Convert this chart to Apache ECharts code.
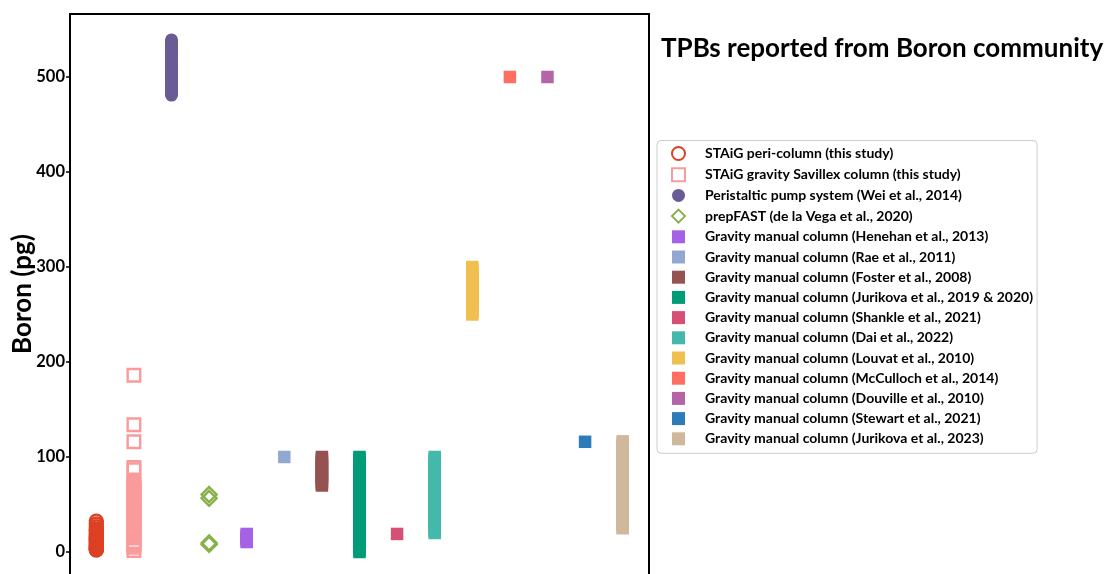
<!DOCTYPE html>
<html>
<head>
<meta charset="utf-8">
<script src="https://cdn.jsdelivr.net/npm/echarts@6/dist/echarts.min.js"></script>
<style>
html,body{margin:0;padding:0;background:#fff;}
#chart{width:1108px;height:574px;}
</style>
</head>
<body>
<div id="chart"></div>
<script>
// ---- data ----
const titleText = 'TPBs reported from Boron community';
const yAxisName = 'Boron (pg)';
const yTicks = [0, 100, 200, 300, 400, 500];

const seriesNames = [
  'STAiG peri-column (this study)',
  'STAiG gravity Savillex column (this study)',
  'Peristaltic pump system (Wei et al., 2014)',
  'prepFAST (de la Vega et al., 2020)',
  'Gravity manual column (Henehan et al., 2013)',
  'Gravity manual column (Rae et al., 2011)',
  'Gravity manual column (Foster et al., 2008)',
  'Gravity manual column (Jurikova et al., 2019 & 2020)',
  'Gravity manual column (Shankle et al., 2021)',
  'Gravity manual column (Dai et al., 2022)',
  'Gravity manual column (Louvat et al., 2010)',
  'Gravity manual column (McCulloch et al., 2014)',
  'Gravity manual column (Douville et al., 2010)',
  'Gravity manual column (Stewart et al., 2021)',
  'Gravity manual column (Jurikova et al., 2023)'
];
const seriesColumn = [1, 2, 3, 4, 5, 6, 7, 8, 9, 10, 11, 12, 13, 14, 15];

const periColumn = [32.5, 29.5, 26.5, 24, 22.5, 21, 19.5, 18, 16.5, 15, 14, 13, 12, 11, 10, 9, 8, 7, 6, 5.2, 4.5, 3.8, 3.2, 2.6, 2];
const savillexColumn = [186, 134, 116, 89, 86.5, 73, 71.5, 70, 68, 66, 64, 62, 60, 58.5, 54, 52, 50, 48, 46, 44, 42, 40, 38, 36, 34, 32, 30, 28, 26, 24, 22, 20, 18, 16, 11, 9, 7, 5, 1.5];
const pumpSystem = [539, 537, 535, 533, 531, 529, 527, 525, 523, 521, 519, 517, 515, 513, 511, 509, 507, 505, 503, 501, 499, 497, 495, 493, 491, 489, 487, 485, 483, 481];
const prepFAST = [60.5, 56.5, 9.5, 8];
const henehan2013 = [19, 17.5, 16, 14.5, 13, 11.5, 10.5];
const rae2011 = [100];
const foster2008 = [100, 98, 96, 94, 92, 90, 88, 86, 84, 82, 80, 78, 76, 74, 72, 70];
const jurikova2019 = [100, 98, 96, 94, 92, 90, 88, 86, 84, 82, 80, 78, 76, 74, 72, 70, 68, 66, 64, 62, 60, 58, 56, 54, 52, 50, 48, 46, 44, 42, 40, 38, 36, 34, 32, 30, 28, 26, 24, 22, 20, 18, 16, 14, 12, 10, 8, 6, 4, 2, 0];
const shankle2021 = [19];
const dai2022 = [100, 98, 96, 94, 92, 90, 88, 86, 84, 82, 80, 78, 76, 74, 72, 70, 68, 66, 64, 62, 60, 58, 56, 54, 52, 50, 48, 46, 44, 42, 40, 38, 36, 34, 32, 30, 28, 26, 24, 22, 20];
const louvat2010 = [300, 298, 296, 294, 292, 290, 288, 286, 284, 282, 280, 278, 276, 274, 272, 270, 268, 266, 264, 262, 260, 258, 256, 254, 252, 250];
const mcculloch2014 = [500];
const douville2010 = [500];
const stewart2021 = [116];
const jurikova2023 = [116.5, 114, 112, 110, 108, 106, 104, 102, 100, 98, 96, 94, 92, 90, 88, 86, 84, 82, 80, 78, 76, 74, 72, 70, 68, 66, 64, 62, 60, 58, 56, 54, 52, 50, 48, 46, 44, 42, 40, 38, 36, 34, 32, 30, 28, 26, 25];

const seriesValues = [periColumn, savillexColumn, pumpSystem, prepFAST, henehan2013, rae2011, foster2008,
  jurikova2019, shankle2021, dai2022, louvat2010, mcculloch2014, douville2010, stewart2021, jurikova2023];

const seriesColors = ['#DD4124', '#FA9B9B', '#6B5B95', '#88B04B', '#A662E6', '#92A8D1', '#955251',
  '#009B77', '#D65076', '#45B8AC', '#EFC050', '#FF6F61', '#B565A7', '#2E7BBA', '#D0B89C'];
const seriesSymbols = ['circle', 'rect', 'circle', 'diamond', 'rect', 'rect', 'rect', 'rect', 'rect', 'rect', 'rect', 'rect', 'rect', 'rect', 'rect'];
const seriesHollow = [true, true, false, true, false, false, false, false, false, false, false, false, false, false, false];

// ---- chart ----
const FONT = 'Lato';
const series = seriesNames.map((name, i) => {
  const hollow = seriesHollow[i];
  const sym = seriesSymbols[i];
  const size = sym === 'circle' ? 13 : (sym === 'diamond' ? 15 : 12.5);
  return {
    name: name,
    type: 'scatter',
    symbol: sym,
    symbolSize: size,
    data: seriesValues[i].map(v => [seriesColumn[i], v]),
    itemStyle: hollow
      ? { color: 'rgba(255,255,255,0)', borderColor: seriesColors[i], borderWidth: 2.4, opacity: 1 }
      : { color: seriesColors[i], opacity: 1 },
    emphasis: { disabled: true },
    z: 2 + i
  };
});

const axisBlack = { show: true, onZero: false, lineStyle: { color: '#000', width: 2 } };

const chart = echarts.init(document.getElementById('chart'), null, { renderer: 'canvas' });
chart.setOption({
  animation: false,
  backgroundColor: '#ffffff',
  title: {
    text: titleText,
    left: 661,
    top: 36,
    padding: 0,
    textStyle: { fontFamily: FONT, fontWeight: 'bold', fontSize: 26, color: '#000' }
  },
  legend: {
    orient: 'vertical',
    left: 657,
    top: 140.5,
    padding: [5.5, 4, 7.5, 14],
    itemWidth: 13,
    itemHeight: 13,
    itemGap: 6.2,
    borderColor: '#cccccc',
    borderWidth: 1,
    borderRadius: 4,
    selectedMode: false,
    data: seriesNames,
    textStyle: { fontFamily: FONT, fontWeight: 'bold', fontSize: 14, color: '#000', padding: [0, 0, 0, 15] }
  },
  grid: {
    left: 70,
    top: 14,
    right: 459,
    bottom: 0,
    show: false,
    containLabel: false,
    outerBoundsMode: 'none'
  },
  xAxis: {
    type: 'value',
    position: 'top',
    min: 0.3,
    max: 15.7,
    axisLine: axisBlack,
    axisTick: { show: false },
    axisLabel: { show: false },
    splitLine: { show: false }
  },
  yAxis: [{
    type: 'value',
    position: 'left',
    min: -23.16,
    max: 566.3,
    name: yAxisName,
    nameLocation: 'middle',
    nameRotate: 90,
    nameGap: 34,
    nameMoveOverlap: false,
    nameTextStyle: { fontFamily: FONT, fontWeight: 'bold', fontSize: 26, color: '#000' },
    axisLine: axisBlack,
    axisTick: { show: true, length: 4, customValues: yTicks, lineStyle: { color: '#000', width: 1.5 } },
    axisLabel: { customValues: yTicks, margin: 5, fontFamily: FONT, fontWeight: 'bold', fontSize: 16.5, color: '#000' },
    splitLine: { show: false }
  }, {
    type: 'value',
    position: 'right',
    min: -23.16,
    max: 566.3,
    axisLine: axisBlack,
    axisTick: { show: false },
    axisLabel: { show: false },
    splitLine: { show: false }
  }],
  series: series
});
</script>
</body>
</html>
